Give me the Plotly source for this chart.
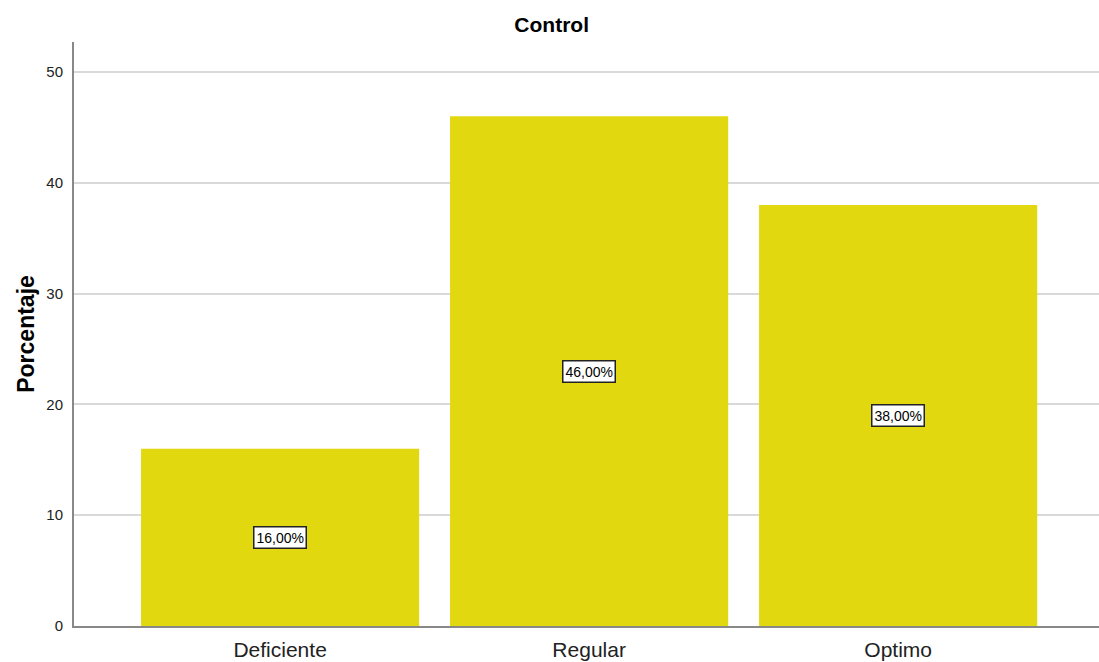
import plotly.graph_objects as go

categories = ["Deficiente", "Regular", "Optimo"]
percentages = [16.0, 46.0, 38.0]
y_ticks = [0, 10, 20, 30, 40, 50]

bar_color = "#E2D810"
font_family = "Liberation Sans, Arial"

fig = go.Figure()
fig.add_trace(go.Bar(
    x=categories,
    y=percentages,
    width=0.9,
    marker=dict(color=bar_color, line=dict(width=0)),
    hoverinfo="skip",
))

# value boxes placed at half the bar height
for cat, val in zip(categories, percentages):
    fig.add_annotation(
        x=cat, y=val / 2,
        text=f"{val:.2f}%".replace(".", ","),
        showarrow=False,
        font=dict(family=font_family, size=14, color="#000000"),
        bgcolor="#FFFFFF",
        bordercolor="#222222",
        borderwidth=1.5,
        borderpad=2,
    )

fig.update_layout(
    width=1099, height=662,
    margin=dict(l=74, r=0, t=42, b=36),
    plot_bgcolor="#FFFFFF",
    paper_bgcolor="#FFFFFF",
    showlegend=False,
    bargap=0.1,
    title=dict(
        text="<b>Control</b>",
        x=0.502, xanchor="center",
        y=0.963, yanchor="middle",
        font=dict(family=font_family, size=21, color="#000000"),
    ),
    xaxis=dict(
        type="category",
        range=[-0.667, 2.65],
        showgrid=False,
        showline=True, linecolor="#888888", linewidth=2,
        ticks="",
        ticklabelstandoff=4,
        tickfont=dict(family=font_family, size=21, color="#222222"),
        zeroline=False,
    ),
    yaxis=dict(
        range=[0, 52.7],
        tickvals=y_ticks,
        showgrid=True, gridcolor="#D9D9D9", gridwidth=2,
        showline=True, linecolor="#888888", linewidth=2,
        ticks="",
        ticklabelstandoff=6,
        tickfont=dict(family=font_family, size=15, color="#222222"),
        zeroline=False,
        title=dict(
            text="<b>Porcentaje</b>",
            font=dict(family=font_family, size=23, color="#000000"),
            standoff=5,
        ),
    ),
)

fig.write_html("out.html")
